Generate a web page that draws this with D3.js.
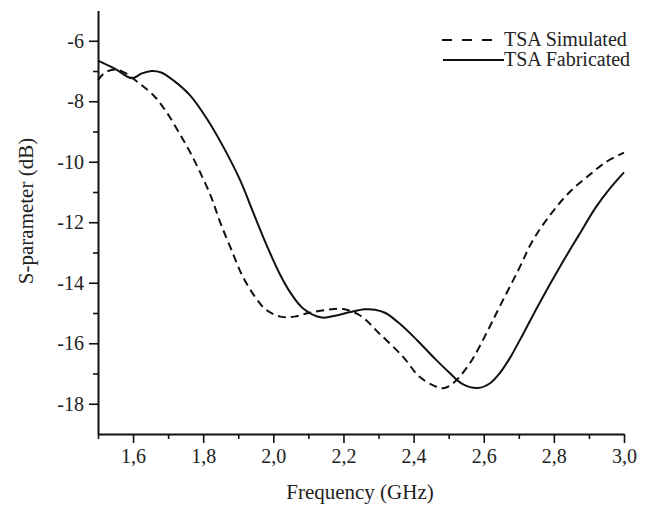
<!DOCTYPE html>
<html>
<head>
<meta charset="utf-8">
<script src="https://cdn.jsdelivr.net/npm/d3@7"></script>
<style>
  html, body { margin: 0; padding: 0; background: #fff; }
  svg text { font-family: "Liberation Serif", "DejaVu Serif", "Times New Roman", serif !important; }
</style>
</head>
<body>
<div id="chart"></div>
<script>
// ---- data ----
const xTicks = [1.6, 1.8, 2.0, 2.2, 2.4, 2.6, 2.8, 3.0];
const xMinorTicks = [1.5, 1.7, 1.9, 2.1, 2.3, 2.5, 2.7, 2.9];
const yTicks = [-6, -8, -10, -12, -14, -16, -18];
const yMinorTicks = [-7, -9, -11, -13, -15, -17];

const simFreq = [1.50, 1.52, 1.55, 1.58, 1.60, 1.658, 1.695, 1.729, 1.762, 1.795, 1.824, 1.848, 1.88, 1.913, 1.95, 1.98, 2.02, 2.06, 2.10, 2.15, 2.20, 2.25, 2.30, 2.37, 2.417, 2.465, 2.488, 2.512, 2.56, 2.612, 2.645, 2.70, 2.74, 2.79, 2.845, 2.90, 2.95, 3.00];
const simVals = [-7.3, -7.05, -6.95, -7.08, -7.25, -7.8, -8.35, -9.0, -9.67, -10.44, -11.2, -11.99, -12.9, -13.8, -14.5, -14.9, -15.12, -15.12, -15.0, -14.9, -14.87, -15.1, -15.65, -16.45, -17.11, -17.44, -17.48, -17.33, -16.67, -15.57, -14.8, -13.55, -12.6, -11.75, -11.0, -10.45, -10.0, -9.7];

const fabFreq = [1.50, 1.55, 1.597, 1.625, 1.653, 1.68, 1.715, 1.762, 1.81, 1.857, 1.905, 1.94, 1.975, 2.018, 2.05, 2.085, 2.138, 2.18, 2.22, 2.26, 2.29, 2.32, 2.36, 2.41, 2.46, 2.50, 2.54, 2.583, 2.617, 2.645, 2.674, 2.712, 2.76, 2.826, 2.87, 2.92, 2.96, 3.00];
const fabVals = [-6.66, -6.94, -7.24, -7.08, -7.0, -7.05, -7.31, -7.8, -8.57, -9.5, -10.6, -11.6, -12.6, -13.7, -14.35, -14.85, -15.15, -15.08, -14.97, -14.88, -14.89, -15.0, -15.35, -15.9, -16.5, -16.95, -17.35, -17.48, -17.33, -17.0, -16.5, -15.7, -14.65, -13.3, -12.45, -11.5, -10.88, -10.35];

const seriesNames = ["TSA Simulated", "TSA Fabricated"];

// ---- layout ----
const W = 652, H = 510;
const x = d3.scaleLinear().domain([1.5, 3.0]).range([98, 624]);
const y = d3.scaleLinear().domain([-19, -5]).range([434, 10.5]);

const svg = d3.select("#chart").append("svg").attr("width", W).attr("height", H);
svg.append("rect").attr("width", W).attr("height", H).attr("fill", "#fff");

const fmtX = d => d3.format(".1f")(d).replace(".", ",");

// x axis
const xAxis = svg.append("g").attr("transform", `translate(0,${y(-19)})`);
xAxis.call(d3.axisBottom(x).tickValues(xTicks).tickFormat(fmtX).tickSize(9).tickPadding(6).tickSizeOuter(0));
const xMinor = svg.append("g").attr("transform", `translate(0,${y(-19)})`);
xMinor.call(d3.axisBottom(x).tickValues(xMinorTicks).tickFormat("").tickSize(5).tickSizeOuter(0));
xMinor.select(".domain").remove();

// y axis
const yAxis = svg.append("g").attr("transform", `translate(${x(1.5)},0)`);
yAxis.call(d3.axisLeft(y).tickValues(yTicks).tickFormat(d => String(d)).tickSize(9).tickPadding(5).tickSizeOuter(0));
const yMinor = svg.append("g").attr("transform", `translate(${x(1.5)},0)`);
yMinor.call(d3.axisLeft(y).tickValues(yMinorTicks).tickFormat("").tickSize(5).tickSizeOuter(0));
yMinor.select(".domain").remove();

svg.selectAll("g").attr("font-family", null);
svg.selectAll(".domain").attr("stroke", "#111").attr("stroke-width", 2);
svg.selectAll(".tick line").attr("stroke", "#111").attr("stroke-width", 1.6);
svg.selectAll(".tick text").attr("font-size", 20).attr("fill", "#222");

// axis titles
svg.append("text").attr("x", 360).attr("y", 499).attr("text-anchor", "middle")
  .attr("font-size", 21).attr("fill", "#222").text("Frequency (GHz)");
svg.append("text").attr("transform", "translate(33,211) rotate(-90)").attr("text-anchor", "middle")
  .attr("font-size", 21).attr("fill", "#222").text("S-parameter (dB)");

// lines
const line = d3.line().x(d => x(d[0])).y(d => y(d[1])).curve(d3.curveCatmullRom.alpha(0.5));
const sim = simFreq.map((f, i) => [f, simVals[i]]);
const fab = fabFreq.map((f, i) => [f, fabVals[i]]);

svg.append("path").datum(sim).attr("d", line).attr("fill", "none")
  .attr("stroke", "#111").attr("stroke-width", 2).attr("stroke-dasharray", "8,5");
svg.append("path").datum(fab).attr("d", line).attr("fill", "none")
  .attr("stroke", "#111").attr("stroke-width", 2);

// legend
const leg = svg.append("g");
leg.append("line").attr("x1", 442).attr("x2", 492).attr("y1", 40).attr("y2", 40)
  .attr("stroke", "#111").attr("stroke-width", 2).attr("stroke-dasharray", "10,10");
leg.append("text").attr("x", 504).attr("y", 46).attr("font-size", 20).attr("fill", "#222").text(seriesNames[0]);
leg.append("line").attr("x1", 443).attr("x2", 504).attr("y1", 60).attr("y2", 60)
  .attr("stroke", "#111").attr("stroke-width", 2);
leg.append("text").attr("x", 504).attr("y", 66).attr("font-size", 20).attr("fill", "#222").text(seriesNames[1]);
</script>
</body>
</html>
